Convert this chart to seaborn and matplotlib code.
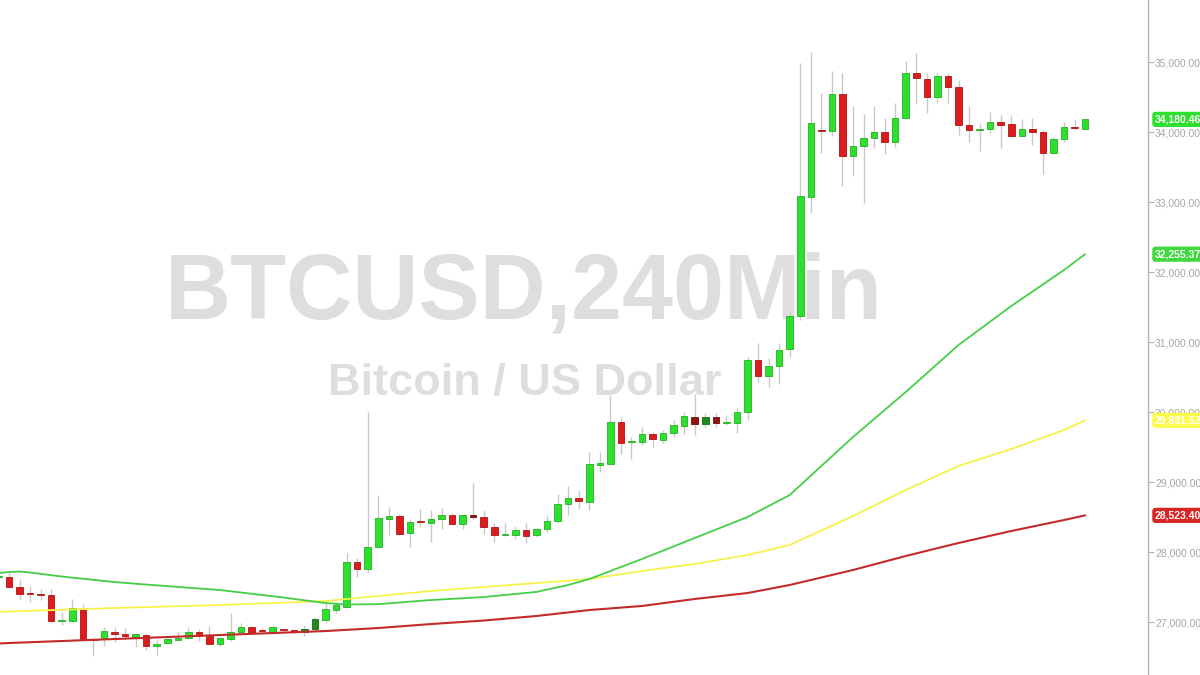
import numpy as np
import pandas as pd
import matplotlib
matplotlib.use("Agg")
import matplotlib.pyplot as plt
import matplotlib.transforms as mtransforms
import seaborn as sns

# 4h candles, bar -1 is the half cut one at the left edge
bar = list(range(-1, 103))
opens = [27640, 27643, 27500, 27414, 27400, 27386, 27014, 27014, 27172, 26760,
         26757, 26857, 26829, 26786, 26814, 26657, 26700, 26743, 26772, 26857,
         26800, 26686, 26757, 26857, 26929, 26872, 26857, 26886, 26886, 26857,
         26900, 27029, 27172, 27214, 27857, 27757, 28071, 28472, 28514, 28272,
         28435, 28414, 28472, 28529, 28400, 28529, 28500, 28357, 28250, 28243,
         28314, 28243, 28329, 28443, 28686, 28771, 28714, 29250, 29257, 29857,
         29565, 29572, 29686, 29600, 29700, 29800, 29929, 29829, 29929, 29850,
         29843, 30000, 30743, 30514, 30657, 30900, 31372, 33072, 34020, 34014,
         34543, 33657, 33800, 33915, 34000, 33857, 34200, 34843, 34757, 34500,
         34800, 34643, 34100, 34035, 34043, 34143, 34114, 33943, 34043, 34000,
         33700, 33900, 34065, 34043]
closes = [27660, 27500, 27400, 27400, 27390, 27014, 27029, 27200, 26757, 26750,
          26872, 26829, 26800, 26829, 26657, 26686, 26757, 26772, 26857, 26800,
          26686, 26772, 26857, 26929, 26857, 26865, 26929, 26880, 26857, 26900,
          27043, 27186, 27243, 27857, 27757, 28071, 28486, 28514, 28257, 28429,
          28425, 28472, 28529, 28400, 28529, 28500, 28357, 28243, 28260, 28314,
          28229, 28329, 28443, 28686, 28771, 28729, 29257, 29265, 29857, 29557,
          29578, 29686, 29614, 29700, 29814, 29943, 29829, 29929, 29843, 29860,
          30000, 30743, 30514, 30657, 30886, 31372, 33086, 34129, 34010, 34543,
          33657, 33800, 33915, 34000, 33857, 34200, 34843, 34772, 34500, 34800,
          34643, 34100, 34029, 34045, 34143, 34100, 33943, 34043, 34000, 33700,
          33900, 34072, 34055, 34180.46]
highs = [27700, 27714, 27614, 27514, 27472, 27472, 27143, 27329, 27257, 26770,
         26929, 26929, 26914, 26843, 26829, 26743, 26770, 26857, 26929, 26900,
         26943, 26780, 27129, 26986, 26940, 26914, 26940, 26895, 26895, 26957,
         27071, 27300, 27286, 27986, 27914, 30000, 28814, 28643, 28543, 28472,
         28614, 28600, 28629, 28557, 28535, 28986, 28600, 28414, 28414, 28372,
         28414, 28343, 28529, 28829, 28943, 28886, 29429, 29429, 30243, 29929,
         29643, 29786, 29714, 29743, 29886, 30000, 30257, 29986, 29986, 29957,
         30057, 30786, 30986, 30772, 30986, 31429, 34986, 35143, 34557, 34872,
         34843, 34372, 34257, 34372, 34200, 34414, 35015, 35129, 34843, 34843,
         34843, 34743, 34372, 34129, 34286, 34243, 34243, 34186, 34200, 34029,
         33929, 34143, 34186, 34186]
lows = [27620, 27490, 27329, 27286, 27314, 27000, 26957, 27000, 26750, 26514,
        26657, 26714, 26757, 26643, 26600, 26529, 26690, 26740, 26757, 26729,
        26680, 26657, 26729, 26850, 26850, 26843, 26850, 26870, 26850, 26800,
        26886, 27000, 27129, 27200, 27643, 27714, 28060, 28243, 28243, 28071,
        28357, 28143, 28329, 28386, 28329, 28472, 28257, 28143, 28229, 28186,
        28129, 28215, 28286, 28414, 28529, 28614, 28600, 29143, 29250, 29400,
        29329, 29529, 29500, 29557, 29643, 29686, 29672, 29786, 29786, 29814,
        29700, 29886, 30429, 30357, 30400, 30786, 31315, 32843, 33700, 33943,
        33229, 33372, 32986, 33772, 33686, 33786, 34190, 34400, 34272, 34414,
        34414, 33957, 33857, 33729, 34000, 33772, 33940, 33940, 33814, 33400,
        33690, 33857, 34029, 34040]
dim_bars = [28, 29, 44, 65, 66, 67]

# moving averages at these bars
ma_bar = [-1, 0, 1, 2, 5, 10, 13, 20, 26, 30, 32, 35, 40, 45, 50, 53, 55, 60,
          65, 70, 74, 77, 80, 85, 90, 95, 100, 102]
ma_fast = [27700, 27714, 27721, 27707, 27650, 27571, 27535, 27457, 27350, 27271,
           27250, 27255, 27314, 27357, 27430, 27529, 27614, 27900, 28200, 28500,
           28814, 29229, 29643, 30286, 30957, 31514, 32029, 32255.37]
ma_bar2 = [-1, 0, 10, 20, 30, 35, 40, 45, 50, 55, 60, 65, 70, 74, 80, 85, 90,
           95, 100, 102]
ma_mid = [27143, 27150, 27200, 27243, 27300, 27371, 27443, 27500, 27557, 27614,
          27729, 27829, 27957, 28100, 28514, 28886, 29229, 29471, 29743, 29881.52]
ma_slow = [26693, 26700, 26757, 26814, 26871, 26914, 26971, 27021, 27086, 27171,
           27229, 27329, 27414, 27529, 27743, 27943, 28129, 28300, 28457, 28523.40]

yticks = [27000, 28000, 29000, 30000, 31000, 32000, 33000, 34000, 35000]

sns.set_style("white")
plt.rcParams['font.family'] = ['Liberation Sans', 'DejaVu Sans']

fig = plt.figure(figsize=(12, 6.75), dpi=100)
ax = fig.add_axes([0, 0, 1148 / 1200, 1])

# watermark
ax.text(0.4566, 0.563, "BTCUSD,240Min", transform=ax.transAxes, ha='center', va='center',
        fontsize=66, fontweight='bold', color='#dedede', zorder=0)
ax.text(0.4573, 0.432, "Bitcoin / US Dollar", transform=ax.transAxes, ha='center', va='center',
        fontsize=32.5, fontweight='bold', color='#dedede', zorder=0)

df = pd.DataFrame({'bar': bar, 'open': opens, 'high': highs, 'low': lows, 'close': closes})
up = df['close'] >= df['open']
dim = df['bar'].isin(dim_bars)
face = np.where(up, np.where(dim, '#1f8a1f', '#2ee02e'), np.where(dim, '#8e1414', '#dc1c1c'))
edge = np.where(up, np.where(dim, '#176817', '#22b022'), np.where(dim, '#6e0c0c', '#b01414'))

ax.vlines(df['bar'], df['low'], df['high'], color='#c9c9c9', lw=1, zorder=2)
height = (df['close'] - df['open']).abs().clip(lower=14)
bottom = df[['open', 'close']].min(axis=1)
ax.bar(df['bar'], height, bottom=bottom, width=0.62, color=face, edgecolor=edge,
       linewidth=0.6, zorder=3)

sns.lineplot(x=ma_bar2, y=ma_slow, ax=ax, color='#c42a2a', lw=1.5, zorder=4)
sns.lineplot(x=ma_bar2, y=ma_mid, ax=ax, color='#f6f24a', lw=1.3, zorder=4)
sns.lineplot(x=ma_bar, y=ma_fast, ax=ax, color='#45cf45', lw=1.3, zorder=4)

ax.set_xlim(-0.853, 107.96)
ax.set_ylim(26243, 35886)

for s in ['top', 'left', 'bottom']:
    ax.spines[s].set_visible(False)
ax.spines['right'].set_color('#b4b4b4')
ax.spines['right'].set_linewidth(1)
ax.set_xticks([])
ax.yaxis.tick_right()
ax.set_yticks(yticks)
ax.set_yticklabels([f"{v:,.2f}" for v in yticks])
ax.tick_params(axis='y', direction='out', length=4, width=0.8, color='#b4b4b4',
               labelcolor='#a6a6a6', labelsize=7.5, pad=1)
ax.set_xlabel('')
ax.set_ylabel('')

# last value tags
tr = mtransforms.blended_transform_factory(ax.transAxes, ax.transData)
for val, col in [(closes[-1], '#2ee02e'), (ma_fast[-1], '#3fd83f'),
                 (ma_mid[-1], '#fbfb4c'), (ma_slow[-1], '#d92424')]:
    ax.text(1.006, val, f"{val:,.2f}", transform=tr, ha='left', va='center',
            fontsize=7.5, fontweight='bold', color='white', clip_on=False, zorder=6,
            bbox=dict(boxstyle='round,pad=0.25,rounding_size=0.3', fc=col, ec='none'))

fig.savefig('out.png', dpi=100)
